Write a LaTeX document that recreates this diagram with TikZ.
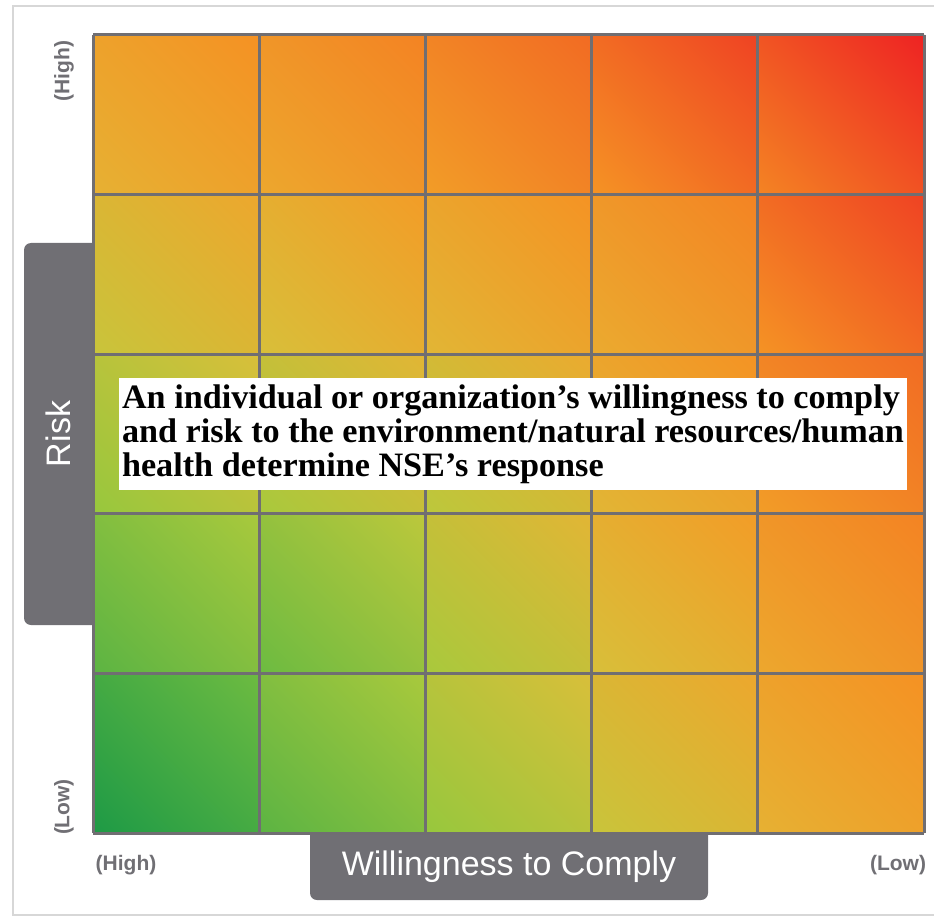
\documentclass[tikz,border=0pt]{standalone}
\usepackage{fontspec}
\setmainfont{Liberation Serif}
\setsansfont{Liberation Sans}
\usepackage{tikz}
\usetikzlibrary{positioning}
\usepackage{xcolor}

\definecolor{tabgray}{RGB}{112,111,116}
\definecolor{gridgray}{RGB}{112,110,114}
\definecolor{framegray}{RGB}{215,215,215}
% palette, green (low) to red (high)
\definecolor{g0}{RGB}{20,150,70}
\definecolor{g1}{RGB}{80,175,68}
\definecolor{g2}{RGB}{135,198,62}
\definecolor{g3}{RGB}{180,202,60}
\definecolor{g4}{RGB}{215,192,58}
\definecolor{g5}{RGB}{232,175,50}
\definecolor{g6}{RGB}{242,158,40}
\definecolor{g7}{RGB}{245,145,35}
\definecolor{g8}{RGB}{243,125,35}
\definecolor{g9}{RGB}{240,90,35}
\definecolor{g10}{RGB}{238,35,35}
\colorlet{cA}{g0}
\colorlet{cB}{g10}
\pgfdeclarehorizontalshading[cA,cB]{cellgrad}{100bp}{color(0bp)=(cA); color(14.64bp)=(cA);
  color(85.36bp)=(cB); color(100bp)=(cB)}

\newcommand{\riskcolor}[2]{%
  \pgfmathsetmacro\rcx{max(0,min(#1,1))*10}%
  \pgfmathtruncatemacro\rci{min(floor(\rcx),9)}%
  \pgfmathtruncatemacro\rcj{\rci+1}%
  \pgfmathsetmacro\rcp{(\rcx-\rci)*100}%
  \colorlet{#2}{g\rcj!\rcp!g\rci}}

\begin{document}
\begin{tikzpicture}[x=1pt,y=-1pt,
		tab/.style={fill=tabgray, rounded corners=7pt},
		axislabel/.style={text=white, font=\sffamily\fontsize{34}{34}\selectfont},
		endlabel/.style={text=tabgray, font=\sffamily\bfseries\fontsize{21}{21}\selectfont}]
		\useasboundingbox (0,0) rectangle (934,917);
		\draw[framegray, line width=2pt] (934,6) -- (13,6) -- (13,915) -- (934,915);
		
		\fill[tab] (24,243) rectangle (110,625);
		\fill[tab] (310,815) rectangle (708,900);
		
		% cells, i = column (left to right), j = row (bottom to top)
		\foreach \i in {0,...,4}
		\foreach \j in {0,...,4} {
			\pgfmathsetmacro\fa{0.42+0.5125*((\i+\j)/5-1)+0.109*((\i+\j)/5-1)*((\i+\j)/5-1)+0.21*abs(\i-\j)/5}
			\pgfmathsetmacro\fb{0.42+0.5125*((\i+\j+2)/5-1)+0.109*((\i+\j+2)/5-1)*((\i+\j+2)/5-1)+0.21*abs(\i-\j)/5}
			\riskcolor{\fa}{cA}\riskcolor{\fb}{cB}
			\fill[shading=cellgrad, shading angle=45] ({93+\i*166.2},{833-\j*159.6}) rectangle ++(166.2,-159.6);
		}
		\foreach \i in {0,...,5} {
			\draw[gridgray, line width=3pt] ({93+\i*166.2},35) -- ({93+\i*166.2},833);
			\draw[gridgray, line width=3pt] (93,{35+\i*159.6}) -- (924,{35+\i*159.6});
		}
		
		\draw (58,434) node[axislabel, rotate=90] (risk) {Risk}
		(509,867) node[axislabel] (wtc) {Willingness to Comply}
		(64,71) node[endlabel, rotate=90] (hiY) {(High)}
		(64,807) node[endlabel, rotate=90] (loY) {(Low)}
		(126,865) node[endlabel] (hiX) {(High)}
		(898,865) node[endlabel] (loX) {(Low)};
		
		\node[fill=white, minimum width=788pt, minimum height=112pt, inner sep=0pt, align=left,
		font=\bfseries\fontsize{34.2}{34}\selectfont] (note) at (513,434)
		{An individual or organization's willingness to comply\\
			and risk to the environment/natural resources/human\\
			health determine NSE's response};
	\end{tikzpicture}
\end{document}
